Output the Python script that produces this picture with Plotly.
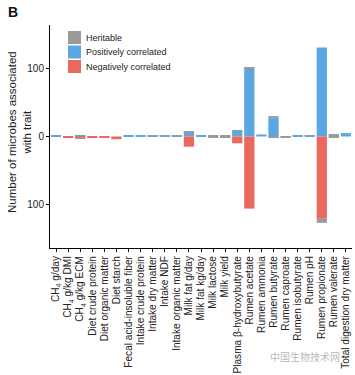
import plotly.graph_objects as go

categories = [
    "CH<sub>4</sub> g/day", "CH<sub>4</sub> g/kg DMI", "CH<sub>4</sub> g/kg ECM",
    "Diet crude protein", "Diet organic matter", "Diet starch",
    "Fecal acid-insoluble fiber", "Intake crude protein", "Intake dry matter",
    "Intake NDF", "Intake organic matter", "Milk fat g/day", "Milk fat kg/day",
    "Milk lactose", "Milk yield", "Plasma β-hydroxybutyrate", "Rumen acetate",
    "Rumen ammonia", "Rumen butyrate", "Rumen caproate", "Rumen isobutyrate",
    "Rumen pH", "Rumen propionate", "Rumen valerate", "Total digestion dry matter",
]
positive = [1, 0, 1, 0, 0, 0, 1, 1, 1, 1, 1, 6, 1, 1, 1, 9, 100, 3, 27, 0, 1, 1, 131, 1, 5]
negative = [0, -1, -1, -1.5, -1, -4, 0, 0, 0, 0, 0, -15, 0, 0, 0, -10, -106, 0, 0, 0, 0, 0, -121, 0, 0]
heritable_pos = [0, 0, 1, 0, 0, 0, 0, 0, 0.5, 0.5, 0.5, 1, 0, 0.5, 0.5, 0.5, 2, 0, 3, 0.5, 0, 1, 0, 2, 0]
heritable_neg = [0, 0, -2, 0, 0, 0, 0, 0, 0, 0, 0, 0, 0, -1, -1, 0, 0, 0, -1, -1, 0, 0, -6, -2, 0]

legend_labels = ["Heritable", "Positively correlated", "Negatively correlated"]

y_tickvals = [-100, 0, 100]
y_ticktext = ["100", "0", "100"]

GREY = "#9a9a9a"
BLUE = "#5aa8df"
RED = "#e9695e"
FONT = "Liberation Sans, Arial, sans-serif"

W, H = 355, 375
ML, MR, MT, MB = 50, 3, 25, 127
PW, PH = W - ML - MR, H - MT - MB

fig = go.Figure()
fig.add_trace(go.Bar(x=categories, y=positive, name="Positively correlated",
                     marker=dict(color=BLUE, line=dict(width=0))))
fig.add_trace(go.Bar(x=categories, y=negative, name="Negatively correlated",
                     marker=dict(color=RED, line=dict(width=0))))
fig.add_trace(go.Bar(x=categories, y=heritable_pos, name="Heritable",
                     marker=dict(color=GREY, line=dict(width=0))))
fig.add_trace(go.Bar(x=categories, y=heritable_neg, name="Heritable",
                     marker=dict(color=GREY, line=dict(width=0))))

fig.update_layout(
    width=W, height=H,
    barmode="relative", bargap=0.15,
    margin=dict(l=ML, r=MR, t=MT, b=MB, autoexpand=False),
    plot_bgcolor="white", paper_bgcolor="white",
    font=dict(family=FONT, size=10, color="#222"),
    showlegend=False,
)
fig.update_xaxes(showline=True, linecolor="black", linewidth=1,
                 ticks="outside", ticklen=3, tickcolor="black",
                 tickmode="array", tickvals=categories, ticktext=categories,
                 tickangle=-90, tickfont=dict(size=10.1, color="#222"),
                 showgrid=False, automargin=False, range=[-0.5, 24.5])
fig.update_yaxes(showline=True, linecolor="black", linewidth=1,
                 ticks="outside", ticklen=3, tickcolor="black",
                 tickvals=y_tickvals, ticktext=y_ticktext,
                 tickfont=dict(size=10, color="#222"),
                 range=[-164, 164], showgrid=False, zeroline=False, automargin=False)

def px_x(p):
    return (p - ML) / PW

def px_y(p):
    return 1 - (p - MT) / PH

for i, (lab, col) in enumerate(zip(legend_labels, [GREY, BLUE, RED])):
    yc = 37.5 + i * 14.5
    fig.add_shape(type="rect", xref="paper", yref="paper",
                  x0=px_x(68), x1=px_x(81), y0=px_y(yc - 6.5), y1=px_y(yc + 6.5),
                  fillcolor=col, line=dict(width=0))
    fig.add_annotation(text=lab, xref="paper", yref="paper", x=px_x(84), y=px_y(yc),
                       xanchor="left", yanchor="middle", showarrow=False,
                       font=dict(size=9, color="#222", family=FONT))

fig.add_annotation(text="Number of microbes associated<br>with trait", textangle=-90,
                   xref="paper", yref="paper", x=px_x(19), y=px_y(132), xanchor="center",
                   yanchor="middle", showarrow=False,
                   font=dict(size=11.5, color="#222", family=FONT))
fig.add_annotation(text="<b>B</b>", xref="paper", yref="paper", x=px_x(13), y=px_y(12),
                   xanchor="center", yanchor="middle", showarrow=False,
                   font=dict(size=14, color="#111", family=FONT))
fig.add_annotation(text="中国生物技术网", xref="paper", yref="paper", x=px_x(305), y=px_y(356),
                   xanchor="center", yanchor="middle", showarrow=False,
                   font=dict(size=10, color="rgba(120,120,120,0.55)",
                             family="Noto Sans CJK SC"))

fig.write_html("out.html", config={"displayModeBar": False},
               post_script="document.body.style.margin='0';document.body.style.overflow='hidden';")
